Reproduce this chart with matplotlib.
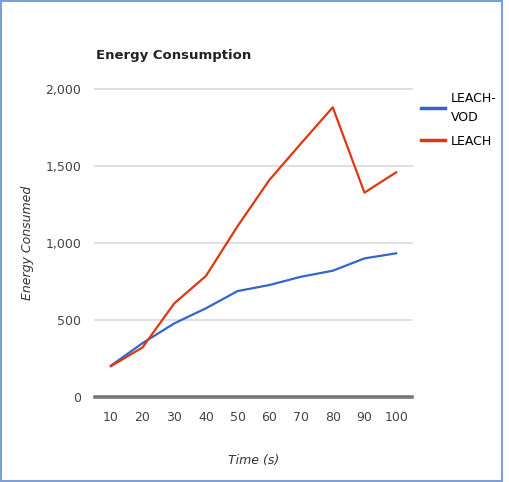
import matplotlib.pyplot as plt
from matplotlib.patches import Rectangle

# data
times = ['10', '20', '30', '40', '50', '60', '70', '80', '90', '100']
leach_vod = [203, 350, 478, 576, 688, 727, 781, 820, 900, 933]
leach = [200, 322, 608, 786, 1110, 1409, 1647, 1881, 1327, 1459]
yticks = [0, 500, 1000, 1500, 2000]
ytick_labels = ['0', '500', '1,000', '1,500', '2,000']

fig = plt.figure(figsize=(5.09, 4.82), dpi=100)
ax = fig.add_axes([95/509, 1-397/482, 317/509, 308/482])

x = list(range(len(times)))
ax.plot(x, leach_vod, color='#3366cc', lw=1.6, label='LEACH-\nVOD')
ax.plot(x, leach, color='#dc3912', lw=1.6, label='LEACH')

ax.set_xlim(-0.5, len(times) - 0.5)
ax.set_ylim(0, 2000)
ax.set_xticks(x)
ax.set_xticklabels(times)
ax.set_yticks(yticks)
ax.set_yticklabels(ytick_labels)
for y in yticks[1:]:
    ax.axhline(y, color='#e0e0e0', lw=1.4, zorder=0, clip_on=False)
ax.axhline(0, color='#777777', lw=2.6, zorder=3, clip_on=False)
for s in ax.spines.values():
    s.set_visible(False)
ax.tick_params(length=0, labelsize=9, colors='#444444')
ax.tick_params(axis='x', pad=10)
ax.tick_params(axis='y', pad=10)

ax.set_xlabel('Time (s)', style='italic', fontsize=9, color='#333333', labelpad=22)
fig.text(27/509, 1-243/482, 'Energy Consumed', style='italic', fontsize=9,
         color='#333333', rotation=90, ha='center', va='center')

fig.text(96/509, 1-56/482, 'Energy Consumption', fontsize=9.5, fontweight='bold',
         color='#222222', va='center')

leg = ax.legend(loc='upper left', bbox_to_anchor=(1.0, 1.02), frameon=False, fontsize=9,
                handlelength=1.9, handletextpad=0.5, labelspacing=0.9, borderaxespad=0.3)
for line in leg.get_lines():
    line.set_linewidth(2.5)
for t in leg.get_texts():
    t.set_linespacing(1.6)

fig.patches.append(Rectangle((0.002, 0.003), 0.984, 0.994, transform=fig.transFigure,
                             fill=False, edgecolor='#7f9fd4', lw=1.5))

fig.savefig('out.png', dpi=100)
